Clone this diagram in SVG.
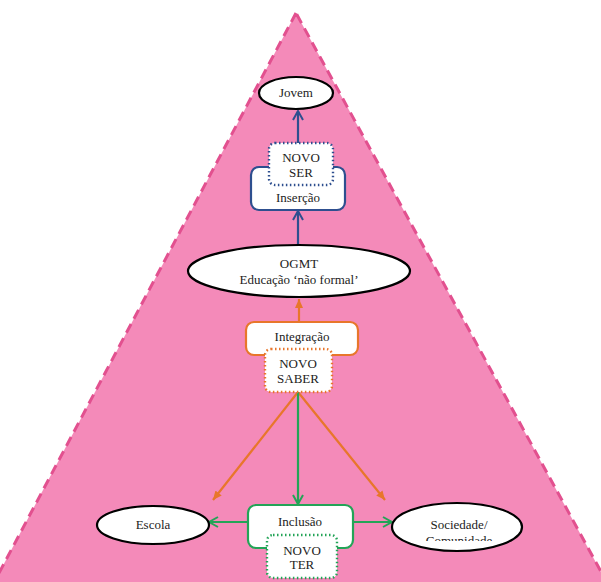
<svg xmlns="http://www.w3.org/2000/svg" width="601" height="582" viewBox="0 0 601 582">
<defs>
<style>
text{font-family:"Liberation Serif","Times New Roman","DejaVu Serif",serif;font-size:13px;fill:#222;text-anchor:middle}
.ell{fill:#fff;stroke:#000;stroke-width:2.2}
.blue{stroke:#2E4F8F}
.orange{stroke:#E8762B}
.green{stroke:#23A457}
.box{fill:#fff;stroke-width:2.2}
.dot{fill:#fff;stroke-width:2.4;stroke-dasharray:1.5 2.5}
.ln{fill:none;stroke-width:2.2}
</style>
<marker id="chB" markerWidth="12" markerHeight="12" refX="10" refY="6" orient="auto" markerUnits="userSpaceOnUse"><path d="M1,1 L10,6 L1,11" fill="none" stroke="#2E4F8F" stroke-width="2"/></marker>
<marker id="chG" markerWidth="12" markerHeight="12" refX="10" refY="6" orient="auto" markerUnits="userSpaceOnUse"><path d="M1,1 L10,6 L1,11" fill="none" stroke="#23A457" stroke-width="2"/></marker>
<marker id="triO" markerWidth="10" markerHeight="10" refX="9" refY="5" orient="auto" markerUnits="userSpaceOnUse"><path d="M0,1 L9,5 L0,9 Z" fill="#E8762B"/></marker>
<clipPath id="socClip"><rect x="390" y="500" width="140" height="41"/></clipPath>
</defs>
<polygon id="triangle" points="296,13 -10,590 611,590" fill="#F48AB9" stroke="#E2508F" stroke-width="3" stroke-dasharray="10 6"/>
<g id="connectors">
<line class="ln blue" x1="298" y1="143" x2="298" y2="111" marker-end="url(#chB)"/>
<line class="ln blue" x1="298" y1="245" x2="298" y2="211" marker-end="url(#chB)"/>
<line class="ln orange" x1="299" y1="322" x2="299" y2="299" marker-end="url(#triO)"/>
<line class="ln orange" x1="298" y1="392" x2="213" y2="500" marker-end="url(#triO)"/>
<line class="ln orange" x1="298" y1="392" x2="385" y2="500" marker-end="url(#triO)"/>
<line class="ln green" x1="298" y1="392" x2="298" y2="504" marker-end="url(#chG)"/>
<line class="ln green" x1="248" y1="522" x2="209" y2="522" marker-end="url(#chG)"/>
<line class="ln green" x1="353" y1="522" x2="392" y2="522" marker-end="url(#chG)"/>
</g>
<g id="jovem"><ellipse class="ell" cx="296" cy="93" rx="37" ry="16"/><text x="296" y="97">Jovem</text></g>
<g id="insercao"><rect class="box blue" x="251" y="167" width="94" height="43" rx="8"/><text x="298" y="202">Inserção</text></g>
<g id="novo-ser"><rect class="dot blue" x="269" y="143" width="64" height="42" rx="6"/><text x="301" y="162">NOVO</text><text x="301" y="177">SER</text></g>
<g id="ogmt"><ellipse class="ell" cx="299" cy="271" rx="111" ry="26"/><text x="299" y="268">OGMT</text><text x="299" y="284">Educação ‘não formal’</text></g>
<g id="integracao"><rect class="box orange" x="246" y="322" width="112" height="33" rx="8"/><text x="302" y="341">Integração</text></g>
<g id="novo-saber"><rect class="dot orange" x="265" y="349" width="67" height="43" rx="6"/><text x="298" y="368">NOVO</text><text x="298" y="383">SABER</text></g>
<g id="escola"><ellipse class="ell" cx="153" cy="525" rx="56" ry="19"/><text x="153" y="529">Escola</text></g>
<g id="inclusao"><rect class="box green" x="248" y="505" width="105" height="43" rx="8"/><text x="300" y="526">Inclusão</text></g>
<g id="novo-ter"><rect class="dot green" x="267" y="535" width="70" height="43" rx="6"/><text x="302" y="555">NOVO</text><text x="302" y="569">TER</text></g>
<g id="sociedade"><ellipse class="ell" cx="457" cy="527" rx="65" ry="24"/><g clip-path="url(#socClip)"><text x="459" y="529">Sociedade/</text><text x="459" y="545">Comunidade</text></g></g>
</svg>
